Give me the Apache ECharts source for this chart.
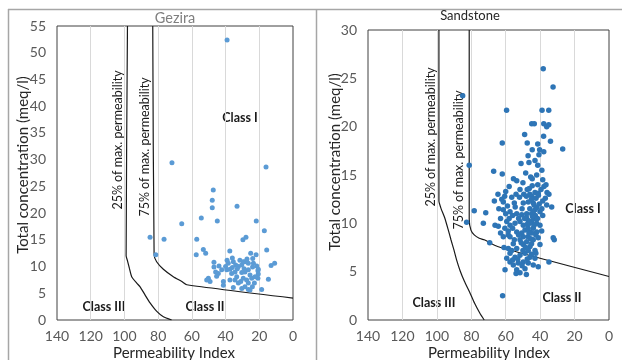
<!DOCTYPE html>
<html>
<head>
<meta charset="utf-8">
<script src="https://cdn.jsdelivr.net/npm/echarts@6/dist/echarts.min.js"></script>
<style>
  html, body { margin: 0; padding: 0; background: #fff; }
  #chart { width: 622px; height: 360px; }
</style>
</head>
<body>
<div id="chart"></div>
<script>
// [permeability index, total concentration meq/l]
var gezira = [
  [39.1,52.4],[71.8,29.4],[16.0,28.6],[47.3,24.3],[47.9,22.4],[47.9,21.0],[33.2,21.3],[66,18.0],
  [54.4,19.1],[44.9,18.5],[21.8,18.5],[17.0,16.7],[84.8,15.5],[76.5,15.1],[57.1,15.1],[27.9,15.5],
  [29.7,15.0],[81.4,12.2],[57.4,12.2],[53.2,13.2],[51.8,12.5],[15.6,13.1],[37.5,12.9],[25.1,12.5],
  [21.9,12.2],[10.9,10.6],[13.0,10.2],[46.9,10.8],[43.9,10.1],[46.9,9.9],[39.1,11.2],[38.4,10.6],
  [35.4,10.9],[34,10.3],[32.4,10],[30.4,10.3],[28.5,10.9],[26.5,10.6],[23.5,10.6],[21.5,10.1],
  [20.6,9.5],[20.6,8.6],[20.8,7.8],[18.6,5.7],[14.6,7.6],[45.9,9.0],[44.3,8.7],[42.3,9.4],
  [45.3,8.2],[39.3,9.4],[37.4,9.5],[36.4,8.7],[34.4,9.0],[33.4,8.1],[30.4,8.9],[28.5,9.0],
  [26.5,9.4],[25.5,8.4],[29.5,7.8],[27.5,7.5],[26.5,6.9],[28.5,6.2],[30.4,5.9],[26.5,5.7],
  [32.4,6.9],[34.4,7.5],[37.4,7.5],[41.3,7.2],[35.4,6.1],[50.2,7.8],[49.2,7.2],[51.2,7.5],
  [41.3,6.5],[24.5,7.8],[22.5,8.1],[22.9,6.9],[24.1,6.2],[25.5,5.6],[36,11.6],[29.5,10.9],
  [27.3,11.4],[23.9,11.5],[20.8,9.2],[31.5,11.2],[33,9.6],[29,9.6],[31,7.2],[36,9.8],
  [40,10.0],[24,9.9]
];
var sandstone = [
  [38.2,26.0],[32.5,24.1],[85,23.2],[59.5,21.7],[38.9,21.7],[35,21.7],[44.9,20.3],[43.4,20.3],
  [37.9,20.3],[36.2,20.0],[35,20.2],[49,19.2],[62,18.3],[47.5,18.3],[41.4,18.2],[44.6,17.6],
  [40.3,17.6],[37.9,17.4],[40.7,17.1],[26.9,17.7],[51.1,16.2],[46.5,16.3],[41.4,16.0],[81.2,16.0],
  [67,15.4],[62,15.1],[48.4,15.2],[44.6,14.6],[53.6,14.4],[44.6,13.9],[41.4,14.0],[36.6,14.0],
  [37.8,13.8],[46.3,13.6],[51.7,13.5],[60,13.3],[60.6,12.8],[43,13.2],[41.1,13.1],[34.9,13.0],
  [44.9,12.8],[42.4,12.6],[66.6,12.3],[62.3,12.5],[61.4,12.2],[55,12.1],[49.8,12.1],[46.9,12.2],
  [44,12.1],[38.5,12.3],[36.2,11.9],[33.3,11.7],[78.3,11.3],[71.6,11.1],[61.4,11.4],[60,11.0],
  [57.5,11.2],[53.6,11.0],[50.7,10.9],[47.8,11.0],[44.9,11.0],[43,11.4],[42,11.6],[40.1,11.2],
  [38.5,10.8],[73,10.0],[66.2,9.8],[64.3,9.7],[59.4,10.2],[57.5,9.8],[54.6,10.0],[51.7,10.2],
  [49.8,9.8],[46.9,10.3],[44.9,10.2],[43,10.5],[42,10.0],[40.1,9.8],[53.6,9.1],[50.7,9.0],
  [48.8,9.3],[45.9,9.1],[44,9.5],[42,9.1],[39.1,9.2],[32.4,8.5],[61.4,8.6],[58.5,8.8],
  [82.7,10.1],[69.3,8.0],[60.4,5.2],[34.9,6.0],[31.8,8.3],[61.8,2.5],[57.5,8.6],[55.6,7.9],
  [53.6,7.4],[51.7,8.3],[49.8,7.8],[47.8,8.1],[45.9,7.6],[43,7.2],[40.1,7.8],[41.1,8.5],
  [57.5,6.9],[54.6,6.5],[51.7,6.7],[48.8,6.9],[45.9,6.5],[43,6.4],[57.5,6.0],[55.6,5.7],
  [52.7,5.9],[49.8,6.0],[46.9,5.9],[44,5.7],[53.6,5.2],[51.7,4.9],[48.8,5.3],[41.1,5.5],
  [59.4,6.4],[56.5,7.2],[49.8,8.6],[44.9,9.0],[46.9,7.2],
  [47,9.5],[48,10.6],[46,11.5],[45,12.5],[43.5,11.9],[42.8,10.8],[44,8.3],[45,7.9],
  [47,8.6],[48.5,7.5],[50,7.2],[52.5,8.8],[55,8.3],[56,9.5],[58,10.5],[59,11.8],
  [56.5,12.7],[54,13.0],[52,12.7],[50.5,11.5],[49,10.5],[47.5,9.9],[46.5,9.0],[45.5,8.4],
  [44.5,10.7],[43.5,9.8],[42.5,8.8],[41.5,10.5],[40.5,12.0],[39.5,13.5],[38.5,14.5],[42,15.0],
  [45.5,14.8],[47.5,13.5],[49.5,13.0],[52.5,10.5],[54.5,11.7],[56,10.8],[58.5,9.2],[60.5,9.5],
  [63,10.5],[64,11.5],[56,6.2],[58.5,7.4],[53,6.3],[50.5,5.6],[47.5,6.3],[45,6.8],
  [42.5,6.9],[48,4.7],[54,4.8],[51,8.0],[46,10.0],[44,11.2],[41,12.9],[39,11.5],
  [37,12.6],[36,13.2],[50,14.2],[55.5,14.6],[58,13.8],[48,12.8],[46,13.0],[64.5,13.0],
  [63,9.0],[61,7.5],[39,15.5],[43,16.5],[47,17.0],[34,18.5],[38,19.0]
];

// class boundary lines
var gez25 = [[98.2,55],[99,12],[98.3,11.2],[97,9.6],[95.7,8.1],[92.7,6.9],[90.7,6.2],[87.8,4.7],[84.8,3.2],[80.8,1.6],[76.9,0.6],[72,0]];
var gez75 = [[83.2,55],[82.4,12.2],[80.9,10.9],[76.9,9.5],[71,8.1],[66,7.2],[63,6.6],[0,4.1]];
var sand25 = [[98.8,30],[98.8,12.3],[97.5,11.5],[95.5,10.6],[93.5,9.4],[91.8,8.3],[90,7.2],[88.5,6.2],[86.5,5.1],[84,4.0],[81,2.9],[78,1.7],[75,0.7],[72.5,0]];
var sand75 = [[81.2,30],[81.2,10.4],[80.2,9.3],[78.3,8.8],[75.4,8.45],[72.5,8.3],[64.7,7.6],[0,4.5]];

var chart = echarts.init(document.getElementById('chart'));
var font = 'Lato, "Liberation Sans", sans-serif';

function xAx(idx) {
  return {
    gridIndex: idx, type: 'value', min: 0, max: 140, interval: 20, inverse: true,
    axisLine: { show: false }, axisTick: { show: false },
    axisLabel: { color: '#595959', fontSize: 14, fontFamily: font, margin: 9 },
    splitLine: { show: true, showMinLine: false, showMaxLine: false, lineStyle: { color: '#d9d9d9', width: 1 } }
  };
}
function yAx(idx, max) {
  return {
    gridIndex: idx, type: 'value', min: 0, max: max, interval: 5,
    axisLine: { show: false }, axisTick: { show: false },
    axisLabel: { color: '#595959', fontSize: 14, fontFamily: font, margin: 11 },
    splitLine: { show: false }
  };
}
function boundary(idx, data) {
  return {
    type: 'line', xAxisIndex: idx, yAxisIndex: idx, data: data, showSymbol: false, smooth: 0.2,
    lineStyle: { color: '#1a1a1a', width: 1.2 }, silent: true, z: 3
  };
}
function txt(x, y, s, size, opts) {
  opts = opts || {};
  return {
    type: 'text', x: x, y: y, rotation: opts.rot || 0, silent: true,
    style: {
      text: s, fontSize: size, fontFamily: font, fontWeight: opts.bold ? 'bold' : 'normal',
      fill: opts.color || '#1a1a1a', textAlign: 'center', textVerticalAlign: 'middle'
    }
  };
}
var R = Math.PI / 2;

chart.setOption({
  animation: false,
  grid: [
    { left: 57, right: 329, top: 26, bottom: 40, show: true, borderColor: '#404040', borderWidth: 1, backgroundColor: 'transparent' },
    { left: 368, right: 13, top: 30, bottom: 40, show: true, borderColor: '#404040', borderWidth: 1, backgroundColor: 'transparent' }
  ],
  xAxis: [xAx(0), xAx(1)],
  yAxis: [yAx(0, 55), yAx(1, 30)],
  series: [
    boundary(0, gez25), boundary(0, gez75), boundary(1, sand25), boundary(1, sand75),
    { type: 'scatter', xAxisIndex: 0, yAxisIndex: 0, data: gezira, symbolSize: 5,
      itemStyle: { color: '#5b9bd5', opacity: 1 }, z: 4 },
    { type: 'scatter', xAxisIndex: 1, yAxisIndex: 1, data: sandstone, symbolSize: 5.5,
      itemStyle: { color: '#2e75b6', opacity: 1 }, z: 4 }
  ],
  graphic: [
    { type: 'line', shape: { x1: 8, y1: 9.5, x2: 622, y2: 9.5 }, style: { stroke: '#a6a6a6', lineWidth: 1.5 } },
    { type: 'line', shape: { x1: 8.5, y1: 9, x2: 8.5, y2: 360 }, style: { stroke: '#a6a6a6', lineWidth: 1.5 } },
    { type: 'line', shape: { x1: 316.5, y1: 9, x2: 316.5, y2: 360 }, style: { stroke: '#a6a6a6', lineWidth: 1.5 } },
    txt(175, 18, 'Gezira', 14.5, { color: '#7f7f7f' }),
    txt(470, 16, 'Sandstone', 13, { color: '#262626' }),
    txt(23, 165, 'Total concentration (meq/l)', 15, { rot: R, color: '#262626' }),
    txt(335, 162, 'Total concentration (meq/l)', 15, { rot: R, color: '#262626' }),
    txt(174, 353, 'Permeability Index', 15, { color: '#262626' }),
    txt(489, 353, 'Permeability Index', 15, { color: '#262626' }),
    txt(118, 140, '25% of max. permeability', 12.5, { rot: R }),
    txt(145, 147, '75% of max. permeability', 12.5, { rot: R }),
    txt(431, 137, '25% of max. permeability', 12.5, { rot: R }),
    txt(459, 160, '75% of max. permeability', 12.5, { rot: R }),
    txt(240, 118, 'Class I', 12.5, { bold: true }),
    txt(104, 307, 'Class III', 12.5, { bold: true }),
    txt(205, 307, 'Class II', 12.5, { bold: true }),
    txt(583, 209, 'Class I', 12.5, { bold: true }),
    txt(434, 303, 'Class III', 12.5, { bold: true }),
    txt(562, 298, 'Class II', 12.5, { bold: true })
  ]
});
</script>
</body>
</html>
